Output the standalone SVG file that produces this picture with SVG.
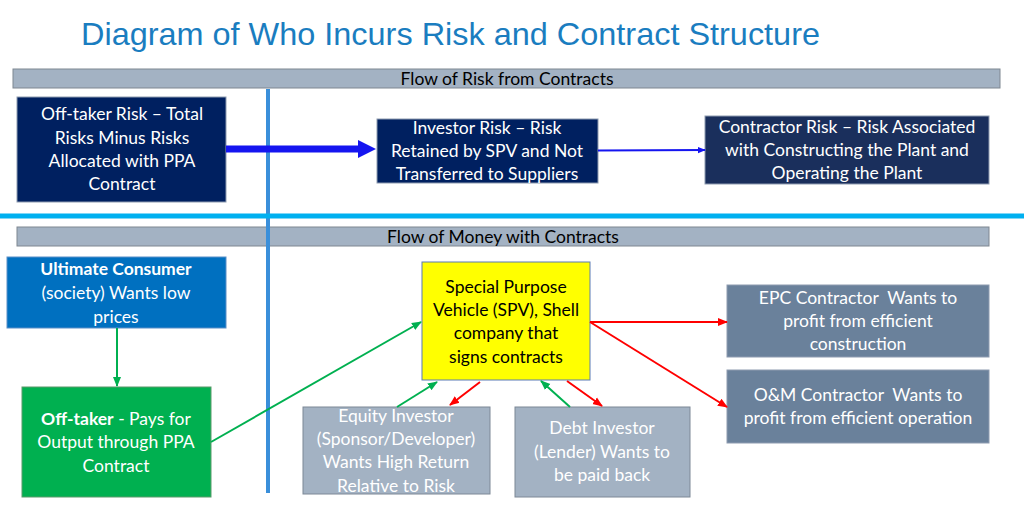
<svg xmlns="http://www.w3.org/2000/svg" width="1024" height="505" viewBox="0 0 1024 505">
<style>
.t{font-family:Lato,"Open Sans","Liberation Sans",sans-serif;font-size:17.5px;text-anchor:middle;fill:#fff}
.pre{white-space:pre}
.k{fill:#000}
.b{font-weight:bold}
.hdr{fill:#A3B2C3;stroke:#7F8791;stroke-width:1}
.navy{fill:#002060;stroke:#8E9BB0;stroke-width:1}
.navy2{fill:#1A2F5C;stroke:#8E9BB0;stroke-width:1}
.gray{fill:#A3B2C3;stroke:#7C8896;stroke-width:1}
.slate{fill:#6A819B;stroke:#8E9BB0;stroke-width:1}
.g{stroke:#00B050;stroke-width:2;fill:none}
.r{stroke:#FF0000;stroke-width:2;fill:none}
</style>
<defs>
<marker id="ag" markerUnits="userSpaceOnUse" markerWidth="10" markerHeight="10" viewBox="0 0 10 10" refX="9" refY="5" orient="auto"><path d="M0,1 L10,5 L0,9 z" fill="#00B050"/></marker>
<marker id="ar" markerUnits="userSpaceOnUse" markerWidth="10" markerHeight="10" viewBox="0 0 10 10" refX="9" refY="5" orient="auto"><path d="M0,1 L10,5 L0,9 z" fill="#FF0000"/></marker>
<marker id="ab" markerUnits="userSpaceOnUse" markerWidth="8" markerHeight="8" viewBox="0 0 10 10" refX="9" refY="5" orient="auto"><path d="M0,1 L10,5 L0,9 z" fill="#1515F0"/></marker>
</defs>
<rect width="1024" height="505" fill="#fff"/>
<text x="81" y="45" font-family="'Liberation Sans',Arial,sans-serif" font-size="30.5" fill="#1A7DC0" textLength="739" lengthAdjust="spacingAndGlyphs">Diagram of Who Incurs Risk and Contract Structure</text>

<g id="header-risk">
<rect class="hdr" x="13" y="69" width="987" height="19"/>
<text class="t k" x="507" y="84.5">Flow of Risk from Contracts</text>
</g>
<g id="header-money">
<rect class="hdr" x="17" y="227" width="972" height="19"/>
<text class="t k" x="503" y="242.5">Flow of Money with Contracts</text>
</g>

<g id="dividers">
<line x1="268" y1="89" x2="268" y2="493" stroke="#3A8FDA" stroke-width="4"/>
<line x1="0" y1="216" x2="1024" y2="216" stroke="#00B0F0" stroke-width="5"/>
</g>

<g id="offtaker-risk">
<rect class="navy" x="17" y="97" width="209" height="105"/>
<text class="t" x="122" y="120">Off-taker Risk – Total</text>
<text class="t" x="122" y="144">Risks Minus Risks</text>
<text class="t" x="122" y="167">Allocated with PPA</text>
<text class="t" x="122" y="190">Contract</text>
</g>
<g id="investor-risk">
<rect class="navy" x="377" y="119" width="221" height="64"/>
<text class="t" x="487" y="134">Investor Risk – Risk</text>
<text class="t" x="487" y="157">Retained by SPV and Not</text>
<text class="t" x="487" y="180">Transferred to Suppliers</text>
</g>
<g id="contractor-risk">
<rect class="navy2" x="705" y="116" width="284" height="68"/>
<text class="t" x="847" y="133">Contractor Risk – Risk Associated</text>
<text class="t" x="847" y="156">with Constructing the Plant and</text>
<text class="t" x="847" y="179">Operating the Plant</text>
</g>

<g id="consumer">
<rect x="7" y="257" width="219" height="71" fill="#0070C0" stroke="#5A8FC8" stroke-width="1"/>
<text class="t b" x="116" y="275">Ultimate Consumer</text>
<text class="t" x="116" y="299">(society) Wants low</text>
<text class="t" x="116" y="323">prices</text>
</g>
<g id="offtaker">
<rect x="22" y="387" width="189" height="110" fill="#00B050" stroke="#5A9A6A" stroke-width="1"/>
<text class="t" x="116" y="425"><tspan class="b">Off-taker</tspan> - Pays for</text>
<text class="t" x="116" y="448">Output through PPA</text>
<text class="t" x="116" y="472">Contract</text>
</g>
<g id="spv">
<rect x="422" y="262" width="168" height="118" fill="#FFFF00" stroke="#5B7BB5" stroke-width="1"/>
<text class="t k" x="506" y="293">Special Purpose</text>
<text class="t k" x="506" y="316">Vehicle (SPV), Shell</text>
<text class="t k" x="506" y="339">company that</text>
<text class="t k" x="506" y="363">signs contracts</text>
</g>
<g id="equity">
<rect class="gray" x="303" y="407" width="187" height="87"/>
<text class="t" x="396" y="422">Equity Investor</text>
<text class="t" x="396" y="445">(Sponsor/Developer)</text>
<text class="t" x="396" y="468">Wants High Return</text>
<text class="t" x="396" y="492">Relative to Risk</text>
</g>
<g id="debt">
<rect class="gray" x="515" y="407" width="175" height="90"/>
<text class="t" x="602" y="434">Debt Investor</text>
<text class="t" x="602" y="458">(Lender) Wants to</text>
<text class="t" x="602" y="481">be paid back</text>
</g>
<g id="epc">
<rect class="slate" x="727" y="285" width="262" height="72"/>
<text class="t pre" x="858" y="304" xml:space="preserve">EPC Contractor  Wants to</text>
<text class="t" x="858" y="327">profit from efficient</text>
<text class="t" x="858" y="350">construction</text>
</g>
<g id="om">
<rect class="slate" x="727" y="370" width="262" height="73"/>
<text class="t pre" x="858" y="401" xml:space="preserve">O&amp;M Contractor  Wants to</text>
<text class="t" x="858" y="424">profit from efficient operation</text>
</g>

<g id="connectors">
<line x1="226" y1="149" x2="360" y2="149" stroke="#1515F0" stroke-width="7"/>
<path d="M358,140 L376,149 L358,158 z" fill="#1515F0"/>
<line x1="598" y1="150.5" x2="705" y2="150" stroke="#1515F0" stroke-width="1.8" marker-end="url(#ab)"/>
<line class="g" x1="117" y1="328" x2="117" y2="386" marker-end="url(#ag)"/>
<line class="g" x1="211" y1="442" x2="421" y2="322" marker-end="url(#ag)"/>
<line class="g" x1="397" y1="407" x2="437" y2="382" marker-end="url(#ag)"/>
<line class="r" x1="480" y1="382" x2="450" y2="405" marker-end="url(#ar)"/>
<line class="g" x1="570" y1="407" x2="541" y2="381" marker-end="url(#ag)"/>
<line class="r" x1="567" y1="381" x2="602" y2="406" marker-end="url(#ar)"/>
<line class="r" x1="590" y1="322" x2="727" y2="322" marker-end="url(#ar)"/>
<line class="r" x1="590" y1="322" x2="727" y2="407" marker-end="url(#ar)"/>
</g>
</svg>
